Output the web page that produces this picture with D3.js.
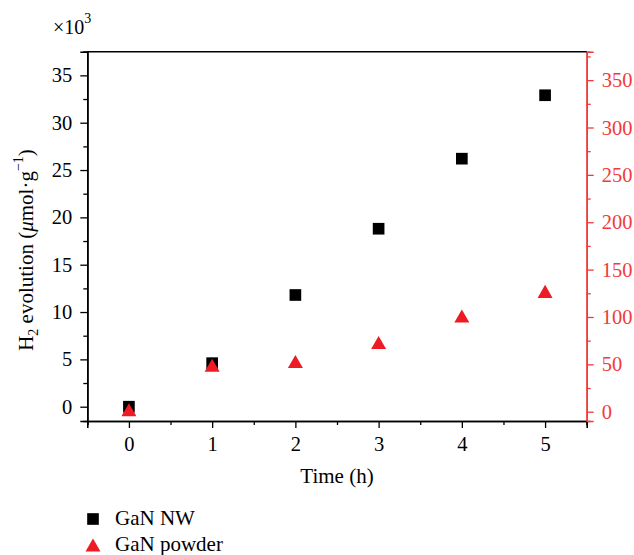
<!DOCTYPE html>
<html><head><meta charset="utf-8">
<script src="https://cdn.jsdelivr.net/npm/d3@7"></script>
<style>
body{margin:0;background:#fff;}
svg text{font-family:"Liberation Serif","DejaVu Serif",serif;}
</style></head>
<body>
<svg id="c" width="634" height="555"></svg>
<script>
const times = [0, 1, 2, 3, 4, 5];
const nwValues = [0, 4.6, 11.8, 18.8, 26.2, 32.9];        // ×10^3 µmol/g, left axis
const powderValues = [2, 49, 53, 73, 101, 127];           // µmol/g, right axis
const xTicks = [0, 1, 2, 3, 4, 5];
const leftTicks = [0, 5, 10, 15, 20, 25, 30, 35];
const rightTicks = [0, 50, 100, 150, 200, 250, 300, 350];
const seriesNames = ["GaN NW", "GaN powder"];

const RED = "#ed1c24", AXRED = "#f23a3a";
const FONT = '"Liberation Serif", "DejaVu Serif", serif';
const svg = d3.select("#c").attr("font-family", FONT);
const L = 87.3, R = 586.7, T = 51.7, B = 421;
const FS = 20.5;

const x = d3.scaleLinear().domain([-0.5, 5.5]).range([L, R]);
const yL = d3.scaleLinear().domain([-1.51, 37.5]).range([B, T]);
const yR = d3.scaleLinear().domain([-9.8, 380]).range([B, T]);

function styleAxis(g, color) {
  g.attr("font-family", FONT);
  g.select(".domain").attr("stroke", color).attr("stroke-width", 1.6);
  g.selectAll(".tick line").attr("stroke", color).attr("stroke-width", 1.3);
  g.selectAll(".tick text").attr("fill", color).style("font-size", FS + "px")
   .attr("font-family", FONT);
}

// minor ticks
const xMinor = d3.range(-0.5, 5.51, 1);
const lMinor = d3.range(2.5, 37.6, 5);
const rMinor = d3.range(25, 376, 50);

svg.append("g").attr("transform", `translate(0,${B})`)
  .call(d3.axisBottom(x).tickValues(xMinor).tickSize(4).tickFormat("")).call(g => styleAxis(g, "#000"));
svg.append("g").attr("transform", `translate(${L},0)`)
  .call(d3.axisLeft(yL).tickValues(lMinor).tickSize(4).tickFormat("")).call(g => styleAxis(g, "#000"));
svg.append("g").attr("transform", `translate(${R},0)`)
  .call(d3.axisRight(yR).tickValues(rMinor).tickSize(4).tickFormat("")).call(g => styleAxis(g, AXRED));

// major axes
svg.append("g").attr("transform", `translate(0,${B})`)
  .call(d3.axisBottom(x).tickValues(xTicks).tickSize(7).tickPadding(8).tickFormat(d3.format("d")))
  .call(g => styleAxis(g, "#000"));
svg.append("g").attr("transform", `translate(${L},0)`)
  .call(d3.axisLeft(yL).tickValues(leftTicks).tickSize(7).tickPadding(8).tickFormat(d3.format("d")))
  .call(g => styleAxis(g, "#000"));
svg.append("g").attr("transform", `translate(${R},0)`)
  .call(d3.axisRight(yR).tickValues(rightTicks).tickSize(7).tickPadding(8).tickFormat(d3.format("d")))
  .call(g => styleAxis(g, AXRED));

// top frame
svg.append("line").attr("x1", L).attr("x2", R).attr("y1", T).attr("y2", T)
  .attr("stroke", "#000").attr("stroke-width", 1.6);

// custom triangle (bbox-centred)
const triType = { draw(ctx, size) { const w = Math.sqrt(size), h = w * 0.87;
  ctx.moveTo(0, -h / 2); ctx.lineTo(w / 2, h / 2); ctx.lineTo(-w / 2, h / 2); ctx.closePath(); } };
const sq = d3.symbol().type(d3.symbolSquare).size(136);
const tri = d3.symbol().type(triType).size(225);

svg.append("g").selectAll("path").data(times).join("path")
  .attr("d", sq).attr("transform", (d, i) => `translate(${x(d)},${yL(nwValues[i])})`).attr("fill", "#000");
svg.append("g").selectAll("path").data(times).join("path")
  .attr("d", tri).attr("transform", (d, i) => `translate(${x(d)},${yR(powderValues[i])})`).attr("fill", RED);

// multiplier
const m = svg.append("text").attr("x", 53).attr("y", 34).style("font-size", "20px").attr("fill", "#000");
m.append("tspan").text("×10");
m.append("tspan").attr("dy", -11).style("font-size", "14px").text("3");

// x title
svg.append("text").attr("x", 337).attr("y", 483).attr("text-anchor", "middle")
  .style("font-size", "21px").text("Time (h)");

// y title
const yt = svg.append("text").attr("transform", "translate(33,250) rotate(-90)")
  .attr("text-anchor", "middle").style("font-size", "21px");
yt.append("tspan").text("H");
yt.append("tspan").attr("dy", 5).style("font-size", "14px").text("2");
yt.append("tspan").attr("dy", -5).text(" evolution (");
yt.append("tspan").style("font-style", "italic").text("μ");
yt.append("tspan").text("mol·g");
yt.append("tspan").attr("dy", -10).style("font-size", "14px").text("−1");
yt.append("tspan").attr("dy", 10).text(")");

// legend
const lg = svg.append("g");
lg.append("path").attr("d", sq).attr("transform", "translate(93,519)").attr("fill", "#000");
lg.append("path").attr("d", tri).attr("transform", "translate(93,545)").attr("fill", RED);
lg.append("text").attr("x", 115).attr("y", 525).style("font-size", "21px").text(seriesNames[0]);
lg.append("text").attr("x", 115).attr("y", 551).style("font-size", "21px").text(seriesNames[1]);
</script>
</body></html>
